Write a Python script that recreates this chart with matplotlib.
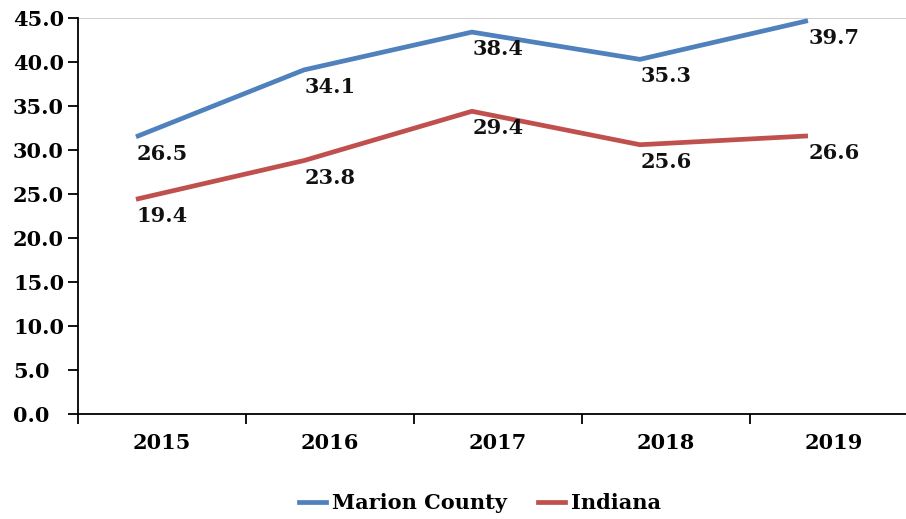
import matplotlib
matplotlib.use("Agg")
import matplotlib.pyplot as plt
from matplotlib.lines import Line2D

years = ["2015", "2016", "2017", "2018", "2019"]
marion = [26.5, 34.1, 38.4, 35.3, 39.7]
indiana = [19.4, 23.8, 29.4, 25.6, 26.6]
y_ticks = [0, 5, 10, 15, 20, 25, 30, 35, 40, 45]

# The reference draws the lines offset from their labels
line_offset = 5.0
x_shift = -0.155

blue = "#4F81BD"
red = "#C0504D"
font = "DejaVu Serif"
fs = 15
plt.rcParams["font.family"] = font
plt.rcParams["font.weight"] = "bold"

W, H = 906, 519
fig = plt.figure(figsize=(W / 100, H / 100), dpi=100)
ax = fig.add_axes([78 / W, (H - 414) / H, 840 / W, 396 / H])

xs = [i + x_shift for i in range(len(years))]
for vals, col, name in [(marion, blue, "Marion County"), (indiana, red, "Indiana")]:
    ys = [v + line_offset for v in vals]
    ax.plot(xs, ys, color=col, lw=3.4, solid_capstyle="butt", label=name)
    for i, (v, yv) in enumerate(zip(vals, ys)):
        ax.annotate(f"{v:.1f}", (i, yv), xytext=(0, -17), textcoords="offset pixels",
                    ha="center", va="center", fontsize=fs, fontweight="bold", color="#111111")

ax.set_xlim(-0.5, len(years) - 0.5)
ax.set_ylim(0, 45)
ax.set_yticks(y_ticks)
ax.set_yticklabels([f"{t:.1f}" for t in y_ticks], fontsize=fs, fontweight="bold", ha="left")
ax.axhline(45, color="#c8c8c8", lw=1.2, zorder=0)

ax.set_xticks(range(len(years)))
ax.set_xticklabels(years, fontsize=fs, fontweight="bold")
ax.set_xticks([i - 0.5 for i in range(len(years) + 1)], minor=True)
ax.tick_params(axis="x", which="major", length=0, pad=14)
ax.tick_params(axis="x", which="minor", length=7, width=1.3, direction="out")
ax.tick_params(axis="y", length=7.2, width=1.3, direction="out", pad=39.6)

for s in ["top", "right"]:
    ax.spines[s].set_visible(False)
for s in ["left", "bottom"]:
    ax.spines[s].set_linewidth(1.3)
    ax.spines[s].set_color("black")

handles = [Line2D([], [], color=blue, lw=3.4), Line2D([], [], color=red, lw=3.4)]
fig.legend(handles, ["Marion County", "Indiana"], loc="center", bbox_to_anchor=(480 / W, 1 - 503 / H),
           ncol=2, frameon=False, handlelength=1.3, handletextpad=0.3, columnspacing=1.5,
           prop={"weight": "bold", "size": fs, "family": font})

fig.savefig("out.png", dpi=100)
